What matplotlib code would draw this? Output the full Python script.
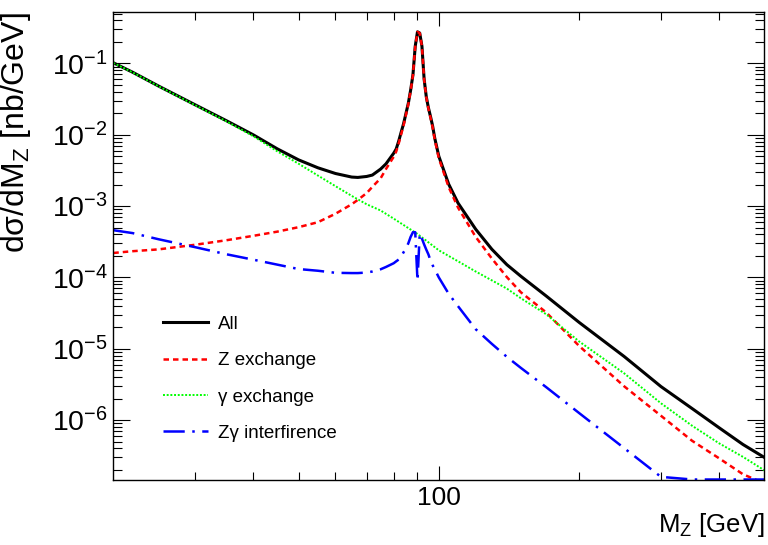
import matplotlib
matplotlib.use('Agg')
import matplotlib.pyplot as plt
import numpy as np
from matplotlib.ticker import (FixedLocator, FixedFormatter, LogLocator,
                               LogFormatterMathtext, NullFormatter)

plt.rcParams['font.family'] = ['Liberation Sans', 'DejaVu Sans']
plt.rcParams['mathtext.fontset'] = 'custom'
plt.rcParams['mathtext.rm'] = 'Liberation Sans'
plt.rcParams['mathtext.it'] = 'Liberation Sans:italic'
plt.rcParams['mathtext.bf'] = 'Liberation Sans:bold'

# ---------------- data ----------------
mass = [20, 22, 25, 30, 35, 40, 45, 50, 55, 60, 65, 67, 70, 72, 75, 77, 80, 81,
        82, 83, 84, 85, 86, 87, 88, 89, 90, 91, 92, 93, 94, 95, 96, 97, 98, 100,
        105, 110, 120, 130, 140, 150, 170, 200, 250, 300, 350, 400, 450, 500]

all_vals = [0.102, 0.0752, 0.0482, 0.0262, 0.0157, 0.00993, 0.00634, 0.00444,
            0.00344, 0.00286, 0.00255, 0.00252, 0.00260, 0.00272, 0.00330,
            0.00390, 0.0055, 0.0063, 0.0081, 0.0108, 0.0142, 0.0198, 0.0275,
            0.0422, 0.0692, 0.174, 0.277, 0.266, 0.174, 0.0602, 0.0340, 0.0238,
            0.0179, 0.0132, 0.0090, 0.0050, 0.00203, 0.00110, 4.74e-4, 2.48e-4,
            1.51e-4, 1.04e-4, 5.5e-5, 2.35e-5, 7.8e-6, 2.95e-6, 1.45e-6, 7.8e-7,
            4.55e-7, 3.0e-7]

z_vals = [2.20e-4, 2.33e-4, 2.47e-4, 2.87e-4, 3.32e-4, 3.83e-4, 4.38e-4, 5.06e-4,
          5.94e-4, 7.8e-4, 1.06e-3, 1.22e-3, 1.52e-3, 1.86e-3, 2.45e-3, 3.3e-3,
          4.9e-3, 5.8e-3, 7.5e-3, 0.0101, 0.0134, 0.0190, 0.0267, 0.0413, 0.0682,
          0.172, 0.276, 0.265, 0.172, 0.0596, 0.0334, 0.0232, 0.0173, 0.0127,
          0.0086, 0.00470, 0.00184, 9.5e-4, 3.70e-4, 1.84e-4, 1.01e-4, 6.2e-5,
          3.24e-5, 1.10e-5, 2.98e-6, 1.15e-6, 5.12e-7, 2.91e-7, 1.74e-7, 1.30e-7]

int_vals = [4.59e-4, 4.18e-4, 3.43e-4, 2.65e-4, 2.11e-4, 1.77e-4, 1.51e-4, 1.31e-4,
            1.24e-4, 1.16e-4, 1.15e-4, 1.15e-4, 1.17e-4, 1.21e-4, 1.30e-4,
            1.40e-4, 1.58e-4, 1.68e-4, 1.78e-4, 1.95e-4, 2.25e-4, 2.55e-4, 3.0e-4,
            3.7e-4, 4.3e-4, 4.3e-4, 9.0e-5, 4.1e-4, 3.5e-4, 2.9e-4, 2.45e-4,
            2.1e-4, 1.72e-4, 1.48e-4, 1.3e-4, 1.0e-4, 5.9e-5, 3.94e-5, 1.88e-5,
            1.17e-5, 7.7e-6, 5.4e-6, 2.9e-6, 1.26e-6, 4.05e-7, 1.6e-7, 8e-8, 5e-8,
            3e-8, 2e-8]

mass_g = [20, 22, 25, 30, 35, 40, 45, 50, 55, 60, 65, 70, 75, 80, 90, 100, 110,
          120, 140, 150, 170, 200, 250, 300, 350, 400, 450, 500]
gamma_vals = [0.1015, 0.0749, 0.0479, 0.0259, 0.0154, 0.00950, 0.00585, 0.00392,
              0.00268, 0.00190, 0.00139, 0.00106, 8.67e-4, 6.67e-4, 4.06e-4,
              2.40e-4, 1.68e-4, 1.21e-4, 6.97e-5, 5.11e-5, 3.05e-5, 1.27e-5,
              4.53e-6, 1.72e-6, 8.32e-7, 4.72e-7, 3.05e-7, 1.98e-7]

labels = ['All', 'Z exchange', 'γ exchange', 'Zγ interfirence']
x_major = [100]
x_major_labels = ['100']
x_minor = [30, 40, 50, 60, 70, 80, 90, 200, 300, 400]
y_major = [1e-6, 1e-5, 1e-4, 1e-3, 1e-2, 1e-1]
xlim = (20, 500)
ylim = (1.47e-7, 0.52)

# ---------------- figure ----------------
W, H = 768, 545
fig = plt.figure(figsize=(W / 100, H / 100), dpi=100)
L, R, T, B = 113.3, 764.3, 12.3, 479.5
ax = fig.add_axes([L / W, 1 - B / H, (R - L) / W, (B - T) / H])
ax.set_xscale('log')
ax.set_yscale('log')
ax.set_xlim(*xlim)
ax.set_ylim(*ylim)

ax.plot(mass, all_vals, color='black', lw=2.2, label=labels[0])
ax.plot(mass, z_vals, color=(1, 0, 0), lw=1.8, linestyle=(0, (2.2, 1.6)),
        label=labels[1])
ax.plot(mass_g, gamma_vals, color=(0, 1, 0), lw=1.4, linestyle=(0, (1.0, 0.9)),
        label=labels[2])
ax.plot(mass, np.clip(int_vals, ylim[0], None), color=(0, 0, 1), lw=1.8,
        linestyle=(0, (8.5, 3.0, 1.0, 3.0)), label=labels[3], clip_on=False)

# ticks
ax.xaxis.set_major_locator(FixedLocator(x_major))
ax.xaxis.set_major_formatter(FixedFormatter(x_major_labels))
ax.xaxis.set_minor_locator(FixedLocator(x_minor))
ax.xaxis.set_minor_formatter(NullFormatter())
ax.yaxis.set_major_locator(FixedLocator(y_major))
ax.yaxis.set_major_formatter(LogFormatterMathtext())
ax.yaxis.set_minor_locator(LogLocator(base=10, subs=np.arange(2, 10), numticks=20))
ax.yaxis.set_minor_formatter(NullFormatter())

ax.tick_params(which='both', direction='in', top=True, right=True, width=0.8)
ax.tick_params(axis='y', which='major', length=12, labelsize=20.5, pad=4)
ax.tick_params(axis='y', which='minor', length=6.5)
ax.tick_params(axis='x', which='major', length=10, labelsize=19, pad=5)
ax.tick_params(axis='x', which='minor', length=5.8)
for s in ax.spines.values():
    s.set_linewidth(1.0)

ax.set_ylabel('dσ/dM$_{\\mathregular{Z}}$ [nb/GeV]', fontsize=23, loc='top')
ax.yaxis.set_label_coords(-0.124, 1.0)
ax.set_xlabel('M$_{\\mathregular{Z}}$ [GeV]', fontsize=18.5, loc='right')
ax.xaxis.set_label_coords(1.0, -0.068)

ax.legend(loc='upper left', bbox_to_anchor=(0.076, 0.351), frameon=False,
          fontsize=13.5, handlelength=2.4, handletextpad=0.55, labelspacing=1.03,
          borderaxespad=0, borderpad=0)

fig.savefig('out.png', dpi=100)
